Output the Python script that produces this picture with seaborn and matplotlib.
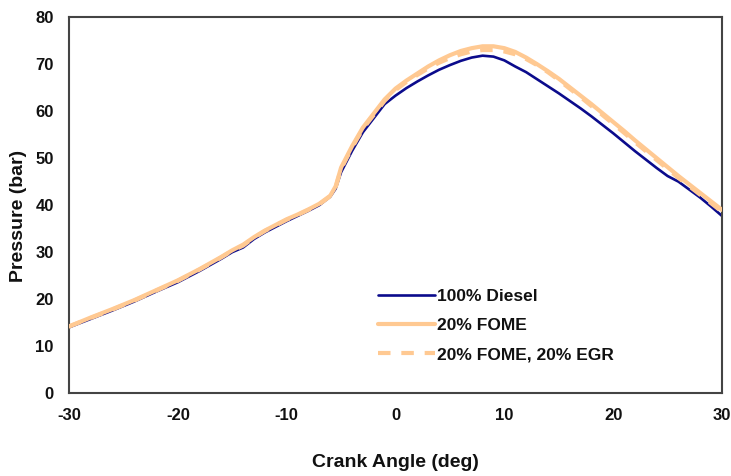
import matplotlib
matplotlib.use("Agg")
import matplotlib.pyplot as plt
import seaborn as sns
import pandas as pd
from matplotlib import font_manager

crank_angle = [-30, -28, -26, -24, -22, -20, -18, -16, -15, -14, -13, -12, -11, -10, -9, -8, -7, -6, -5.5,
               -5, -4, -3, -2, -1, 0, 1, 2, 3, 4, 5, 6, 7, 8, 9, 10, 11, 12, 13, 14, 15,
               16, 17, 18, 19, 20, 21, 22, 23, 24, 25, 26, 27, 28, 29, 30]

diesel = [14.0, 15.8, 17.6, 19.5, 21.6, 23.6, 26.0, 28.6, 30.0, 31.0, 32.8, 34.2, 35.4, 36.6, 37.7, 38.8, 40.0, 41.8, 43.5,
          47.0, 51.5, 55.5, 58.5, 61.5, 63.3, 64.9, 66.3, 67.6, 68.8, 69.8, 70.7, 71.4, 71.8, 71.6, 70.8, 69.5, 68.3, 66.8, 65.3, 63.8,
          62.2, 60.6, 58.9, 57.1, 55.3, 53.4, 51.5, 49.7, 47.9, 46.2, 45.0, 43.3, 41.6, 39.7, 37.7]

fome = [14.2, 16.1, 17.9, 19.8, 21.9, 24.0, 26.4, 29.0, 30.4, 31.6, 33.2, 34.6, 35.8, 37.0, 38.0, 39.1, 40.3, 42.0, 44.0,
        48.0, 52.5, 56.5, 59.5, 62.5, 64.8, 66.5, 68.0, 69.5, 70.8, 71.9, 72.8, 73.4, 73.8, 73.8, 73.4, 72.6, 71.4, 70.0, 68.5, 66.9,
        65.1, 63.3, 61.5, 59.6, 57.7, 55.8, 53.8, 51.9, 50.0, 48.1, 46.2, 44.4, 42.6, 40.8, 39.0]

fome_egr = [14.2, 16.0, 17.8, 19.7, 21.8, 23.9, 26.3, 28.9, 30.3, 31.4, 33.1, 34.5, 35.7, 36.9, 37.9, 39.0, 40.2, 41.9, 43.8,
            47.7, 52.2, 56.2, 59.2, 62.2, 64.5, 66.2, 67.7, 69.1, 70.3, 71.3, 72.1, 72.7, 73.0, 73.0, 72.7, 72.1, 71.1, 69.8, 68.3, 66.6,
            64.8, 63.0, 61.1, 59.2, 57.3, 55.4, 53.4, 51.5, 49.6, 47.7, 45.8, 44.0, 42.2, 40.4, 38.6]

series_names = ["100% Diesel", "20% FOME", "20% FOME, 20% EGR"]
x_ticks = [-30, -20, -10, 0, 10, 20, 30]
y_ticks = [0, 10, 20, 30, 40, 50, 60, 70, 80]

df = pd.concat([
    pd.DataFrame({"angle": crank_angle, "pressure": diesel, "series": series_names[0]}),
    pd.DataFrame({"angle": crank_angle, "pressure": fome, "series": series_names[1]}),
    pd.DataFrame({"angle": crank_angle, "pressure": fome_egr, "series": series_names[2]}),
])

sns.set_style("white")
avail = {f.name for f in font_manager.fontManager.ttflist}
fam = "Liberation Sans Narrow" if "Liberation Sans Narrow" in avail else "Liberation Sans"
plt.rcParams["font.family"] = [fam, "DejaVu Sans"]

fig = plt.figure(figsize=(7.31, 4.76), dpi=100)
ax = fig.add_axes([0.0944, 0.174, 0.8933, 0.790])

colors = {"100% Diesel": "#0b0b8c", "20% FOME": "#ffc992", "20% FOME, 20% EGR": "#ffc992"}
styles = {"100% Diesel": dict(lw=1.9, ls="-"),
          "20% FOME": dict(lw=3.0, ls="-"),
          "20% FOME, 20% EGR": dict(lw=3.0, ls=(0, (3.0, 2.6)))}

for i, name in enumerate(series_names):
    sub = df[df["series"] == name]
    sns.lineplot(data=sub, x="angle", y="pressure", ax=ax, color=colors[name],
                 linewidth=styles[name]["lw"], linestyle=styles[name]["ls"],
                 label=name, zorder=2 + i, sort=False)

ax.set_xlim(-30, 30)
ax.set_ylim(0, 80)
ax.set_xticks(x_ticks)
ax.set_yticks(y_ticks)
ax.set_xticklabels([str(t) for t in x_ticks], fontsize=12, fontweight="bold", color="#111111")
ax.set_yticklabels([str(t) for t in y_ticks], fontsize=12, fontweight="bold", color="#111111")
ax.tick_params(axis="both", direction="out", length=5, width=1.2, color="#444444", pad=6)
ax.set_xlabel("Crank Angle (deg)", fontsize=14, fontweight="bold", labelpad=22, color="#111111")
ax.set_ylabel("Pressure (bar)", fontsize=14, fontweight="bold", labelpad=5, color="#111111")
ax.yaxis.set_label_coords(-0.064, 0.47)
for s in ax.spines.values():
    s.set_color("#444444")
    s.set_linewidth(1.5)

leg = ax.legend(loc="upper left", bbox_to_anchor=(0.462, 0.295), frameon=False,
                prop={"family": [fam, "DejaVu Sans"], "weight": "bold", "size": 12.5},
                handlelength=3.3, handletextpad=0.1, labelspacing=0.8, borderaxespad=0)
for t in leg.get_texts():
    t.set_color("#111111")

fig.savefig("out.png", dpi=100)
